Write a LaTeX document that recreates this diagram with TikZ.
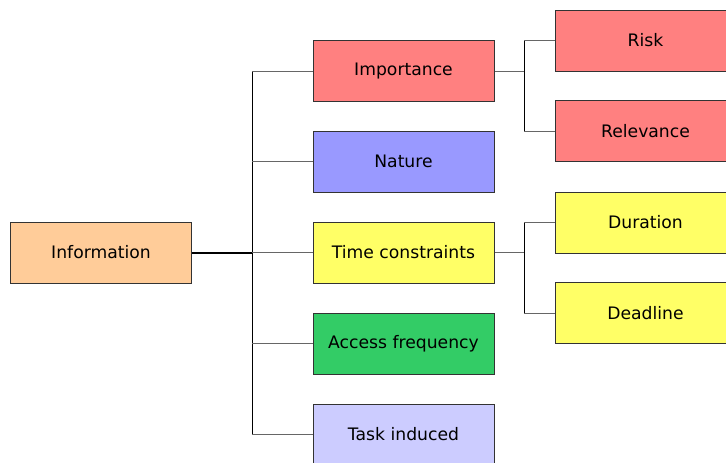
\documentclass[tikz,border=0pt]{standalone}
\usepackage{fontspec}
\setmainfont{DejaVu Sans}
\usetikzlibrary{calc}

\definecolor{infocol}{HTML}{FFCC99}
\definecolor{impcol}{HTML}{FF8080}
\definecolor{natcol}{HTML}{9999FF}
\definecolor{timecol}{HTML}{FFFF66}
\definecolor{acccol}{HTML}{33CC66}
\definecolor{taskcol}{HTML}{CCCCFF}

\tikzset{
  box/.style={draw=black!80, line width=0.5pt, minimum width=90.5pt, minimum height=30.5pt,
    inner sep=0pt, font=\fontsize{8.6}{10}\selectfont},
  link/.style={line width=0.5pt, draw=black!60},
}

\begin{document}
\begin{tikzpicture}[x=0.5pt,y=-0.5pt]
\useasboundingbox (0,0) rectangle (726,462);
\clip (0,0) rectangle (726,462);
\node[box, fill=infocol] (info) at (101,252.5) {Information};
\node[box, fill=impcol] (imp) at (403.5,71) {Importance};
\node[box, fill=natcol] (nat) at (403.5,161.5) {Nature};
\node[box, fill=timecol] (time) at (403.5,252.5) {Time constraints};
\node[box, fill=acccol] (acc) at (403.5,343.5) {Access frequency};
\node[box, fill=taskcol] (task) at (403.5,434.5) {Task induced};
\node[box, fill=impcol] (risk) at (645.5,40.5) {Risk};
\node[box, fill=impcol] (rel) at (645.5,131) {Relevance};
\node[box, fill=timecol] (dur) at (645.5,222.5) {Duration};
\node[box, fill=timecol] (dead) at (645.5,313) {Deadline};
% trunks
\coordinate (trunk) at (252,252.5);
\coordinate (itrunk) at (524,71);
\coordinate (ttrunk) at (524,252.5);
\draw[line width=1pt] (info.east) -- (trunk);
\draw[line width=0.5pt] (trunk |- imp) -- (trunk |- task);
\foreach \n in {imp,nat,time,acc,task}
  \draw[link] (trunk |- \n) -- (\n.west);
\draw[link] (imp.east) -- (itrunk);
\draw[line width=0.5pt] (itrunk |- risk) -- (itrunk |- rel);
\draw[link] (itrunk |- risk) -- (risk.west);
\draw[link] (itrunk |- rel) -- (rel.west);
\draw[link] (time.east) -- (ttrunk);
\draw[line width=0.5pt] (ttrunk |- dur) -- (ttrunk |- dead);
\draw[link] (ttrunk |- dur) -- (dur.west);
\draw[link] (ttrunk |- dead) -- (dead.west);
\end{tikzpicture}
\end{document}
